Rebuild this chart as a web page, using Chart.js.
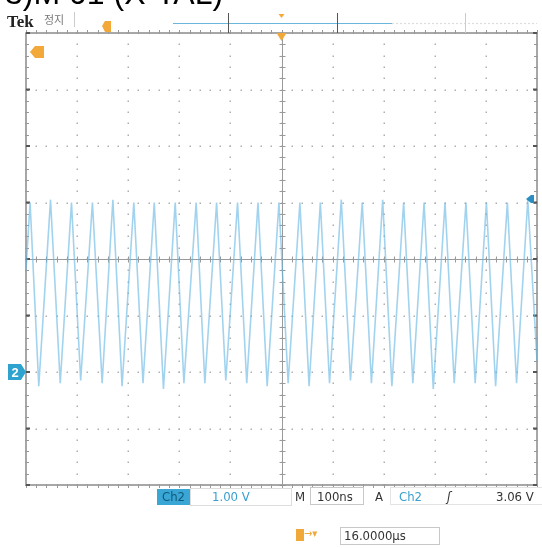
<!DOCTYPE html>
<html><head><meta charset="utf-8">
<script src="https://cdn.jsdelivr.net/npm/chart.js@4/dist/chart.umd.min.js"></script>
<style>
html,body{margin:0;padding:0;background:#fff;width:542px;height:548px;overflow:hidden;}
#wrap{position:relative;width:542px;height:548px;overflow:hidden;}
canvas{position:absolute;left:0;top:0;}
.t{position:absolute;white-space:nowrap;line-height:1;font-family:'Liberation Sans Narrow','DejaVu Sans Condensed','Liberation Sans',sans-serif;font-size:13px;}
.box{position:absolute;border:1px solid #c8c8c8;}
</style></head><body>
<div id="wrap">
<canvas id="c" width="542" height="548"></canvas>
<div class="t" style="left:5px;top:-23px;font-family:'Liberation Sans',Arial,sans-serif;font-size:32px;color:#000;">3)M 01 (X-TAL)</div>
<div class="t" style="left:7px;top:13px;font-family:'Liberation Serif',serif;font-weight:bold;font-size:17px;color:#222;">Tek</div>
<div class="t" style="left:44px;top:14px;font-family:'Noto Sans CJK KR',sans-serif;font-size:11px;color:#777;">정지</div>
<div class="box" style="left:190px;top:488px;width:100px;height:16px;border-color:#ddd;"></div>
<div class="t" style="left:157px;top:489px;width:33px;height:15px;background:#3aa6d6;color:#0f5a7a;text-align:center;padding-top:1px;font-size:13px;">Ch2</div>
<div class="t" style="left:212px;top:490px;color:#3a9fcf;">1.00 V</div>
<div class="t" style="left:295px;top:490px;color:#333;">M</div>
<div class="box" style="left:310px;top:487px;width:52px;height:16px;"></div>
<div class="t" style="left:317px;top:490px;color:#333;">100ns</div>
<div class="t" style="left:375px;top:490px;color:#333;">A</div>
<div class="t" style="left:399px;top:490px;color:#3a9fcf;">Ch2</div>
<div class="t" style="left:447px;top:490px;color:#333;font-style:italic;">ʃ</div>
<div class="box" style="left:390px;top:487px;width:151px;height:16px;border-color:#e4e4e4;"></div>
<div class="t" style="left:496px;top:490px;color:#333;">3.06 V</div>
<div class="t" style="left:296px;top:529px;width:8px;height:12px;background:#f0a838;"></div>
<div class="t" style="left:304px;top:528px;color:#f0a838;font-size:11px;">→▾</div>
<div class="box" style="left:340px;top:527px;width:98px;height:16px;"></div>
<div class="t" style="left:344px;top:529px;color:#333;">16.0000µs</div>
</div>
<script>
// ---- data (time in ns, Ch2 level in V) ----
const xDivisions = [0,100,200,300,400,500,600,700,800,900,1000];
const yDivisions = [-2,-1,0,1,2,3,4,5,6];
const startPoint = [0, 1.8];
const endPoint = [1000, 0.2];
const peakTimes = [8,48,89,130,170,211,251,292,333,373,414,454,495,536,576,617,658,698,739,779,820,861,901,942,982];
const peakVolts = [3.0,3.05,3.0,3.0,3.05,3.0,3.0,3.0,3.0,3.0,3.0,3.0,3.0,3.0,3.0,3.05,3.0,3.05,3.0,3.0,3.0,3.0,3.0,3.0,3.05];
const troughTimes = [25,67,107,149,188,229,269,309,350,391,432,472,513,554,594,635,676,716,757,797,838,879,919,960];
const troughVolts = [-0.25,-0.2,-0.15,-0.2,-0.25,-0.2,-0.3,-0.2,-0.2,-0.15,-0.2,-0.25,-0.2,-0.25,-0.2,-0.15,-0.2,-0.25,-0.2,-0.3,-0.2,-0.2,-0.25,-0.2];
const groundLevel = 0;
const triggerTime = 500;
const triggerLevel = 3.06;

const pts = [{x:startPoint[0],y:startPoint[1]}];
peakTimes.forEach((t,i)=>pts.push({x:t,y:peakVolts[i]}));
troughTimes.forEach((t,i)=>pts.push({x:t,y:troughVolts[i]}));
pts.push({x:endPoint[0],y:endPoint[1]});
pts.sort((a,b)=>a.x-b.x);

const scopePlugin = {
  id:'scope',
  beforeDatasetsDraw(chart){
    const {ctx, chartArea:a, scales:{x,y}} = chart;
    ctx.save();
    const xStep = (xDivisions[1]-xDivisions[0])/5;
    const yStep = (yDivisions[1]-yDivisions[0])/5;
    ctx.fillStyle = '#b0b0b0';
    xDivisions.slice(1,-1).forEach(xv=>{
      const px = Math.round(x.getPixelForValue(xv));
      for(let k=0;k<=40;k++){
        const py = y.getPixelForValue(yDivisions[0]+k*yStep);
        ctx.fillRect(px-0.5, Math.round(py)-0.5, 1.5, 1.5);
      }
    });
    yDivisions.slice(1,-1).forEach(yv=>{
      const py = Math.round(y.getPixelForValue(yv));
      for(let k=0;k<=50;k++){
        const px = x.getPixelForValue(xDivisions[0]+k*xStep);
        ctx.fillRect(Math.round(px)-0.5, py-0.5, 1.5, 1.5);
      }
    });
    const cx = Math.round(x.getPixelForValue(500))+0.5;
    const cy = Math.round(y.getPixelForValue(2))+0.5;
    ctx.strokeStyle = '#9a9a9a'; ctx.lineWidth = 1;
    ctx.beginPath();
    ctx.moveTo(a.left,cy); ctx.lineTo(a.right,cy);
    ctx.moveTo(cx,a.top); ctx.lineTo(cx,a.bottom);
    for(let k=0;k<=50;k++){const px=Math.round(x.getPixelForValue(k*xStep))+0.5; ctx.moveTo(px,cy-3); ctx.lineTo(px,cy+3);}
    for(let k=0;k<=40;k++){const py=Math.round(y.getPixelForValue(yDivisions[0]+k*yStep))+0.5; ctx.moveTo(cx-3,py); ctx.lineTo(cx+3,py);}
    ctx.stroke();
    ctx.strokeStyle = '#8a8a8a'; ctx.lineWidth = 1.5;
    ctx.strokeRect(a.left, a.top, a.right-a.left, a.bottom-a.top);
    ctx.lineWidth = 1; ctx.strokeStyle = '#999';
    ctx.beginPath();
    for(let k=0;k<=50;k++){const px=Math.round(x.getPixelForValue(k*xStep))+0.5;
      ctx.moveTo(px,a.top-3); ctx.lineTo(px,a.top+1); ctx.moveTo(px,a.bottom-1); ctx.lineTo(px,a.bottom+3);}
    for(let k=0;k<=40;k++){const py=Math.round(y.getPixelForValue(yDivisions[0]+k*yStep))+0.5;
      ctx.moveTo(a.left-1,py); ctx.lineTo(a.left+3,py); ctx.moveTo(a.right-3,py); ctx.lineTo(a.right+1,py);}
    ctx.stroke();
    ctx.fillStyle = '#555';
    yDivisions.forEach(yv=>{const py=y.getPixelForValue(yv); ctx.fillRect(a.left,py-1,4,2); ctx.fillRect(a.right-4,py-1,4,2);});
    ctx.restore();
  },
  afterDraw(chart){
    const {ctx, chartArea:a, scales:{x,y}} = chart;
    ctx.save();
    ctx.strokeStyle = '#6ab6dc'; ctx.lineWidth = 1.2;
    ctx.beginPath(); ctx.moveTo(173,23.5); ctx.lineTo(392,23.5); ctx.stroke();
    ctx.strokeStyle = '#ddd'; ctx.setLineDash([2,2]);
    ctx.beginPath(); ctx.moveTo(392,23.5); ctx.lineTo(537,23.5); ctx.stroke();
    ctx.setLineDash([]);
    ctx.strokeStyle = '#555'; ctx.lineWidth = 1;
    ctx.beginPath(); ctx.moveTo(228.5,13); ctx.lineTo(228.5,33); ctx.moveTo(337.5,13); ctx.lineTo(337.5,33); ctx.stroke();
    ctx.strokeStyle = '#ccc';
    ctx.beginPath(); ctx.moveTo(465.5,13); ctx.lineTo(465.5,33); ctx.moveTo(74.5,12); ctx.lineTo(74.5,27); ctx.stroke();
    ctx.fillStyle = '#f2a93a';
    ctx.beginPath(); ctx.moveTo(102,26); ctx.lineTo(105,21); ctx.lineTo(111,21); ctx.lineTo(111,32); ctx.lineTo(105,32); ctx.closePath(); ctx.fill();
    const tx = x.getPixelForValue(triggerTime);
    ctx.beginPath(); ctx.moveTo(tx-3,14); ctx.lineTo(tx+3,14); ctx.lineTo(tx,18); ctx.closePath(); ctx.fill();
    ctx.beginPath(); ctx.moveTo(tx-5,a.top); ctx.lineTo(tx+5,a.top); ctx.lineTo(tx,a.top+8); ctx.closePath(); ctx.fill();
    ctx.beginPath(); ctx.moveTo(30,52); ctx.lineTo(35,46); ctx.lineTo(44,46); ctx.lineTo(44,58); ctx.lineTo(35,58); ctx.closePath(); ctx.fill();
    const gy = y.getPixelForValue(groundLevel);
    ctx.fillStyle = '#2ea3cf';
    ctx.beginPath(); ctx.moveTo(8,gy-8); ctx.lineTo(21,gy-8); ctx.lineTo(26,gy); ctx.lineTo(21,gy+8); ctx.lineTo(8,gy+8); ctx.closePath(); ctx.fill();
    ctx.fillStyle = '#fff'; ctx.font = 'bold 13px "Liberation Sans", sans-serif';
    ctx.textAlign = 'center'; ctx.textBaseline = 'middle';
    ctx.fillText('2', 15, gy+1);
    const ly = y.getPixelForValue(triggerLevel);
    ctx.fillStyle = '#2a8fc0';
    ctx.beginPath(); ctx.moveTo(a.right-11,ly); ctx.lineTo(a.right-6,ly-4); ctx.lineTo(a.right-3,ly-4); ctx.lineTo(a.right-3,ly+4); ctx.lineTo(a.right-6,ly+4); ctx.closePath(); ctx.fill();
    ctx.restore();
  }
};

new Chart(document.getElementById('c'), {
  type:'scatter',
  data:{datasets:[{
    data:pts, showLine:true, borderColor:'rgba(100,182,226,0.6)', borderWidth:1.6,
    pointRadius:0, tension:0
  }]},
  options:{
    responsive:false, animation:false, events:[],
    layout:{padding:{left:26,top:33,right:5,bottom:63}},
    plugins:{legend:{display:false}, tooltip:{enabled:false}},
    scales:{
      x:{type:'linear', min:xDivisions[0], max:xDivisions[xDivisions.length-1], display:false},
      y:{type:'linear', min:yDivisions[0], max:yDivisions[yDivisions.length-1], display:false}
    }
  },
  plugins:[scopePlugin]
});
</script>
</body></html>
